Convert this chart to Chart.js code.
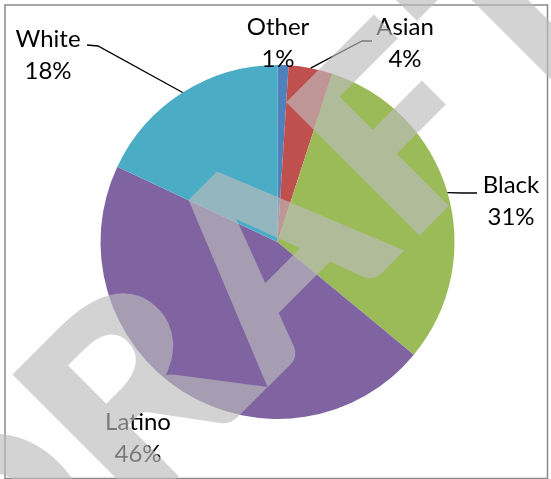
<!DOCTYPE html>
<html>
<head>
<meta charset="utf-8">
<script src="https://cdn.jsdelivr.net/npm/chart.js@4.4.1/dist/chart.umd.min.js"></script>
<style>
  html, body { margin: 0; padding: 0; background: #fff; }
  #wrap { position: relative; width: 551px; height: 479px; }
</style>
</head>
<body>
<div id="wrap"><canvas id="myChart"></canvas></div>
<script>
const groups = ['Other', 'Asian', 'Black', 'Latino', 'White'];
const shares = [1, 4, 31, 46, 18];
const shareLabels = ['1%', '4%', '31%', '46%', '18%'];
const sliceColors = ['#4F81BD', '#C0504D', '#9BBB59', '#8064A2', '#4BACC6'];

// where each label sits (centre x, baseline of the name) and the elbow of its leader
const labelSpots = [
  { x: 278, y: 35, leader: null },
  { x: 405, y: 35, leader: [[372, 41], [362, 41]] },
  { x: 511, y: 193, leader: [[477, 193], [462, 193]] },
  { x: 138, y: 430, leader: null },
  { x: 48, y: 47, leader: [[87, 45], [98, 46]] },
];

// watermark letters: glyph, left and right ink edge along the rotated baseline
const markLetters = [
  ['D', -455, -285],
  ['R', -256, -88],
  ['A', -84, 107],
  ['F', 130, 255],
  ['T', 280, 428],
];

const ctx = document.getElementById('myChart');
const labelFont = '24px Lato, "Open Sans", sans-serif';

// grey frame round the chart area
const framePlugin = {
  id: 'frame',
  beforeDraw(chart) {
    const c = chart.ctx;
    c.save();
    c.strokeStyle = '#8a8a8a';
    c.lineWidth = 1.5;
    c.strokeRect(5, 5, 542.5, 473.5);
    c.restore();
  },
};

// category name + percentage outside the pie, with leader lines
const labelPlugin = {
  id: 'sliceLabels',
  afterDatasetsDraw(chart) {
    const c = chart.ctx;
    const arcs = chart.getDatasetMeta(0).data;
    c.save();
    c.font = labelFont;
    c.fillStyle = '#000';
    c.textAlign = 'center';
    c.textBaseline = 'alphabetic';
    arcs.forEach((arc, i) => {
      const spot = labelSpots[i];
      c.fillText(groups[i], spot.x, spot.y);
      c.fillText(shareLabels[i], spot.x, spot.y + 32);
      if (spot.leader) {
        const p = arc.getProps(['x', 'y', 'startAngle', 'endAngle', 'outerRadius'], true);
        const mid = (p.startAngle + p.endAngle) / 2;
        const ex = p.x + Math.cos(mid) * p.outerRadius;
        const ey = p.y + Math.sin(mid) * p.outerRadius;
        c.beginPath();
        c.moveTo(spot.leader[0][0], spot.leader[0][1]);
        c.lineTo(spot.leader[1][0], spot.leader[1][1]);
        c.lineTo(ex, ey);
        c.strokeStyle = '#000';
        c.lineWidth = 1.3;
        c.stroke();
      }
    });
    c.restore();
  },
};

// big semi-transparent DRAFT across the whole chart
const draftPlugin = {
  id: 'draftMark',
  afterDraw(chart) {
    const off = document.createElement('canvas');
    off.width = chart.width;
    off.height = chart.height;
    const o = off.getContext('2d');
    const grey = 'rgb(188,188,188)';
    const fatten = 7; // extra stroke so the letters get heavy strokes
    o.fillStyle = grey;
    o.strokeStyle = grey;
    o.lineJoin = 'miter';
    o.font = 'bold 200px Lato, "Open Sans", sans-serif';
    o.textBaseline = 'alphabetic';
    o.translate(327.5, 327.5);
    o.rotate(-Math.PI / 4);
    const capHeight = 189 - fatten;
    markLetters.forEach(([ch, left, right]) => {
      const m = o.measureText(ch);
      const inkW = m.actualBoundingBoxLeft + m.actualBoundingBoxRight;
      const sx = (right - left - fatten) / inkW;
      const sy = capHeight / m.actualBoundingBoxAscent;
      o.save();
      o.translate(left + fatten / 2, -fatten / 2);
      o.scale(sx, sy);
      o.lineWidth = fatten / ((sx + sy) / 2);
      o.fillText(ch, m.actualBoundingBoxLeft, 0);
      o.strokeText(ch, m.actualBoundingBoxLeft, 0);
      o.restore();
    });
    const c = chart.ctx;
    c.save();
    c.globalAlpha = 0.65;
    c.drawImage(off, 0, 0);
    c.restore();
  },
};

new Chart(ctx, {
  type: 'pie',
  data: {
    labels: groups,
    datasets: [
      {
        data: shares,
        backgroundColor: sliceColors,
        borderWidth: 0,
      },
    ],
  },
  options: {
    responsive: true,
    maintainAspectRatio: false,
    animation: false,
    layout: {
      padding: { left: 100.5, right: 96.5, top: 65, bottom: 60 },
    },
    plugins: {
      legend: { display: false },
      tooltip: { enabled: false },
    },
  },
  plugins: [framePlugin, labelPlugin, draftPlugin],
});
</script>
</body>
</html>
